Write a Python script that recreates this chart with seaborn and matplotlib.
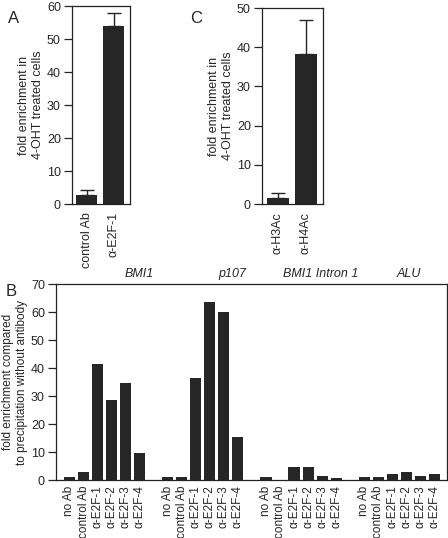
import numpy as np
import pandas as pd
import matplotlib
matplotlib.use("Agg")
import matplotlib.pyplot as plt
import seaborn as sns

# panel A
a_labels = ["control Ab", "α-E2F-1"]
a_values = [2.7, 54.0]
a_err = [1.5, 4.0]

# panel C
c_labels = ["α-H3Ac", "α-H4Ac"]
c_values = [1.5, 38.2]
c_err = [1.3, 8.8]

# panel B
b_groups = ["BMI1", "p107", "BMI1 Intron 1", "ALU"]
b_antibodies = ["no Ab", "control Ab", "α-E2F-1", "α-E2F-2", "α-E2F-3", "α-E2F-4"]
b_bmi1 = [1.1, 2.8, 41.5, 28.5, 34.6, 9.8]
b_p107 = [1.1, 1.0, 36.5, 63.5, 60.0, 15.2]
b_intron = [1.1, 0.1, 4.8, 4.8, 1.4, 0.6]
b_alu = [1.1, 0.9, 2.0, 2.9, 1.3, 2.2]

sns.set_style("ticks")
plt.rcParams["font.family"] = ["Liberation Sans", "DejaVu Sans"]
plt.rcParams["font.size"] = 9
plt.rcParams["axes.linewidth"] = 0.9
plt.rcParams["xtick.major.size"] = 0
plt.rcParams["ytick.major.size"] = 6
plt.rcParams["ytick.major.width"] = 0.9
plt.rcParams["ytick.major.pad"] = 2
plt.rcParams["axes.edgecolor"] = "#222222"

bar_color = "#262626"
fig = plt.figure(figsize=(4.48, 5.38), dpi=100)


def small_panel(rect, labels, values, errs, ymax, xlim, ylabel):
    ax = fig.add_axes(rect)
    df = pd.DataFrame({"ab": labels, "val": values})
    sns.barplot(data=df, x="ab", y="val", color=bar_color, saturation=1,
                width=0.78, linewidth=0, ax=ax)
    ax.errorbar(range(len(values)), values, yerr=[np.zeros(len(errs)), errs],
                fmt="none", ecolor=bar_color, elinewidth=1, capsize=5, capthick=1)
    ax.set_ylim(0, ymax)
    ax.set_yticks(range(0, ymax + 1, 10))
    ax.set_xlim(*xlim)
    ax.set_xlabel("")
    ax.set_ylabel(ylabel, labelpad=2)
    ax.tick_params(axis="x", rotation=90, pad=6)
    return ax


ax_a = small_panel([0.1607, 0.6208, 0.1295, 0.368], a_labels, a_values, a_err,
                   60, (-0.54, 1.61), "fold enrichment in\n4-OHT treated cells")
ax_c = small_panel([0.5848, 0.6208, 0.136, 0.3643], c_labels, c_values, c_err,
                   50, (-0.57, 1.61), "fold enrichment in\n4-OHT treated cells")

# panel B with a blank slot between groups
rows = []
for gi, (g, vals) in enumerate(zip(b_groups, [b_bmi1, b_p107, b_intron, b_alu])):
    for bi, (ab, v) in enumerate(zip(b_antibodies, vals)):
        rows.append({"group": g, "ab": ab, "pos": gi * 7 + bi, "val": v})
df_b = pd.DataFrame(rows)

ax_b = fig.add_axes([0.125, 0.1078, 0.8728, 0.3643])
sns.barplot(data=df_b, x="pos", y="val", native_scale=True, color=bar_color,
            saturation=1, width=0.79, linewidth=0, ax=ax_b)
ax_b.set_xlim(-0.96, 26.9)
ax_b.set_ylim(0, 70)
ax_b.set_yticks(range(0, 71, 10))
ax_b.set_xticks(df_b["pos"])
ax_b.set_xticklabels(df_b["ab"], rotation=90, fontsize=8.5)
ax_b.tick_params(axis="x", pad=4)
ax_b.set_xlabel("")
ax_b.set_ylabel("fold enrichment compared\nto precipitation without antibody",
                labelpad=2, fontsize=8.5)
for gi, g in enumerate(b_groups):
    ax_b.text(gi * 7 + 2.5 + [2.5, 2.1, 1.4, 0.7][gi], 71.5, g, style="italic",
              ha="center", va="bottom")

fig.text(0.018, 0.965, "A", fontsize=12, va="center")
fig.text(0.424, 0.965, "C", fontsize=12, va="center")
fig.text(0.012, 0.458, "B", fontsize=12, va="center")

fig.savefig("out.png", dpi=100)
